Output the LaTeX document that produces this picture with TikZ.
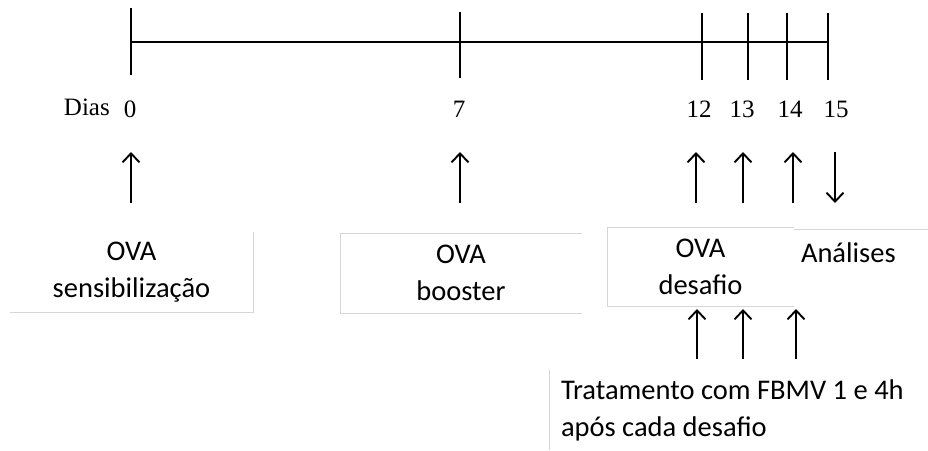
\documentclass[tikz,border=0pt]{standalone}
\usepackage{fontspec}
\setmainfont{Carlito}
\newfontfamily\timesfont{Liberation Serif}
\usetikzlibrary{arrows.meta,positioning}
\tikzset{
  axis/.style={line width=2.6pt,black},
  tick/.style={line width=2.4pt,black},
  arr/.style={-{Straight Barb[length=9pt,width=17pt]},line width=1.9pt,black},
  panel/.style={inner sep=0pt,outer sep=0pt,align=center,
                font=\fontsize{28.5}{37}\selectfont},
  edge/.style={draw=black!16,line width=1pt},
  day/.style={font=\timesfont\fontsize{25}{25}\selectfont,anchor=base,inner sep=0pt}
}
\begin{document}
\begin{tikzpicture}[x=1pt,y=-1pt]
    \useasboundingbox (0,0) rectangle (928,450);
    % time line
    \coordinate (t0) at (131,42);
    \coordinate (t15) at (828,42);
    \draw[axis] (t0) -- (t15);
    \foreach \x/\top/\bot in {131/8/75,460/12/78,702/13/80,748/13/80,787/13/80,828/13/80}
      \draw[tick] (\x,\top) -- (\x,\bot);
    \node[day,anchor=base east] (dias) at (110,115) {Dias};
    \foreach \x/\d in {130/0,459/7,699/12,742/13,790/14,836/15}
      \node[day] (d\d) at (\x,117) {\d};
    % boxes
    \node[panel,minimum width=243pt,minimum height=80pt] (sens) at (131.5,272)
         {OVA\\sensibilização};
    \node[panel,minimum width=242pt,minimum height=80pt] (boost) at (461,273)
         {OVA\\booster};
    \node[panel,minimum width=187pt,minimum height=79pt] (desaf) at (700.5,266.5)
         {OVA\\desafio};
    \node[panel,anchor=north west,minimum width=134pt,minimum height=79pt] (anl) at (794,229) {};
    \node[panel,anchor=west] (anltxt) at ([xshift=7pt,yshift=-24pt]anl.north west) {Análises};
    \node[panel,anchor=north west,align=left,inner xsep=12pt,inner ysep=5pt,
          minimum height=80pt] (trat) at (549,370)
         {Tratamento com FBMV 1 e 4h\\após cada desafio};
    \draw[edge] (sens.north east) -- (sens.south east) -- (sens.south west);
    \draw[edge] (boost.north east) -- (boost.north west) -- (boost.south west) -- (boost.south east);
    \draw[edge] (desaf.north east) -- (desaf.north west) -- (desaf.south west) -- (desaf.south east);
    \draw[edge] (anl.north west) -- (anl.north east);
    \draw[edge] (trat.north west) -- (trat.south west);
    % arrows
    \foreach \x/\n in {131/a0,460/a7,696/a12,743/a13,793/a14}{
      \coordinate (\n s) at (\x,203);
      \coordinate (\n e) at (\x,152);
      \draw[arr] (\n s) -- (\n e);
    }
    \coordinate (a15s) at (835,152);
    \coordinate (a15e) at (835,203);
    \draw[arr] (a15s) -- (a15e);
    \foreach \x/\n in {697/b12,743/b13,796/b14}{
      \coordinate (\n s) at (\x,359);
      \coordinate (\n e) at (\x,309);
      \draw[arr] (\n s) -- (\n e);
    }
\end{tikzpicture}
\end{document}
